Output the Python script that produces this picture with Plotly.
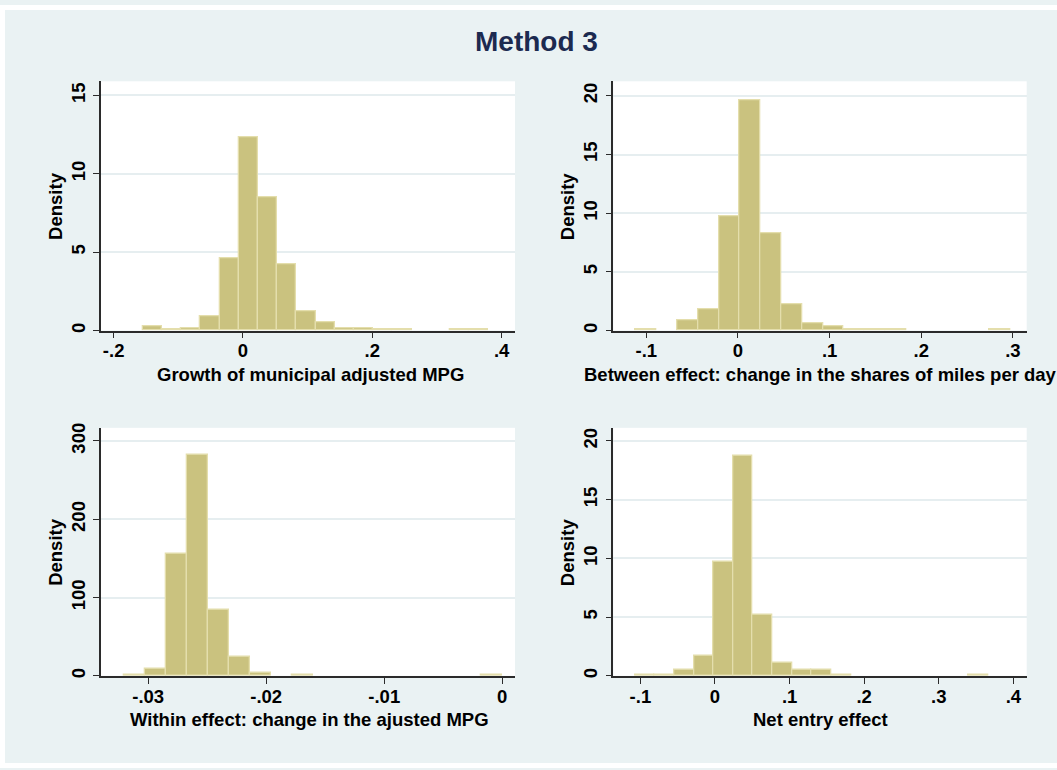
import plotly.graph_objects as go

W, H = 1057, 770

# ---------------- data ----------------
title_text = "Method 3"

p1_title = "Growth of municipal adjusted MPG"
p1_bin_start = -0.155
p1_bin_width = 0.0297
p1_density = [0.27, 0.08, 0.17, 0.93, 4.6, 12.32, 8.5, 4.2, 1.24, 0.51,
              0.17, 0.17, 0.08, 0.08, 0, 0, 0.08, 0.08]
p1_xticks = [-0.2, 0, 0.2, 0.4]
p1_xlabels = ["-.2", "0", ".2", ".4"]
p1_yticks = [0, 5, 10, 15]
p1_ylabels = ["0", "5", "10", "15"]

p2_title = "Between effect: change in the shares of miles per day"
p2_bin_start = -0.1116
p2_bin_width = 0.0227
p2_density = [0.14, 0, 0.9, 1.85, 9.72, 19.63, 8.31, 2.27, 0.62, 0.37,
              0.14, 0.14, 0.14, 0, 0, 0, 0, 0.14]
p2_xticks = [-0.1, 0, 0.1, 0.2, 0.3]
p2_xlabels = ["-.1", "0", ".1", ".2", ".3"]
p2_yticks = [0, 5, 10, 15, 20]
p2_ylabels = ["0", "5", "10", "15", "20"]

p3_title = "Within effect: change in the ajusted MPG"
p3_bin_start = -0.03203
p3_bin_width = 0.00178
p3_density = [1.7, 8.4, 155.3, 281.9, 84.8, 24.5, 3.8, 0, 1.7, 0,
              0, 0, 0, 0, 0, 0, 0, 1.7]
p3_xticks = [-0.03, -0.02, -0.01, 0]
p3_xlabels = ["-.03", "-.02", "-.01", "0"]
p3_yticks = [0, 100, 200, 300]
p3_ylabels = ["0", "100", "200", "300"]

p4_title = "Net entry effect"
p4_bin_start = -0.1072
p4_bin_width = 0.02631
p4_density = [0.11, 0.11, 0.48, 1.74, 9.72, 18.74, 5.22, 1.1, 0.48, 0.48,
              0.11, 0, 0, 0, 0, 0, 0, 0.11]
p4_xticks = [-0.1, 0, 0.1, 0.2, 0.3, 0.4]
p4_xlabels = ["-.1", "0", ".1", ".2", ".3", ".4"]
p4_yticks = [0, 5, 10, 15, 20]
p4_ylabels = ["0", "5", "10", "15", "20"]

y_title = "Density"

# ---------------- styling / layout ----------------
BG = "#EAF2F3"
BAR_FILL = "#CAC27F"
BAR_LINE = "#E4DEAC"
AXIS_COL = "#2B2B2B"
FONT = "Liberation Sans, Arial, sans-serif"
FS = 18.5

panels = [
    dict(start=p1_bin_start, width=p1_bin_width, dens=p1_density,
         xt=p1_xticks, xl=p1_xlabels, yt=p1_yticks, yl=p1_ylabels,
         xr=[-0.2196, 0.4207], yr=[0, 15.9], title=p1_title,
         px=(101, 515), py=(77, 328.5), tx=310),
    dict(start=p2_bin_start, width=p2_bin_width, dens=p2_density,
         xt=p2_xticks, xl=p2_xlabels, yt=p2_yticks, yl=p2_ylabels,
         xr=[-0.136, 0.315], yr=[0, 21.24], title=p2_title,
         px=(613.3, 1026.7), py=(77, 328.5), tx=820),
    dict(start=p3_bin_start, width=p3_bin_width, dens=p3_density,
         xt=p3_xticks, xl=p3_xlabels, yt=p3_yticks, yl=p3_ylabels,
         xr=[-0.0340, 0.00108], yr=[0, 316.8], title=p3_title,
         px=(101, 515), py=(426.7, 677), tx=309),
    dict(start=p4_bin_start, width=p4_bin_width, dens=p4_density,
         xt=p4_xticks, xl=p4_xlabels, yt=p4_yticks, yl=p4_ylabels,
         xr=[-0.1363, 0.4178], yr=[0, 21.12], title=p4_title,
         px=(613.3, 1026.7), py=(426.7, 677), tx=820),
]

fig = go.Figure()
layout = dict(
    width=W, height=H,
    margin=dict(l=0, r=0, t=0, b=0),
    paper_bgcolor=BG, plot_bgcolor="white",
    showlegend=False, bargap=0,
    font=dict(family=FONT, size=FS, color="black", weight="bold"),
)
annotations = []

for i, p in enumerate(panels, start=1):
    xs = [p["start"] + (k + 0.5) * p["width"] for k in range(len(p["dens"]))]
    keep = [(x, d) for x, d in zip(xs, p["dens"]) if d > 0]
    fig.add_trace(go.Bar(
        x=[k[0] for k in keep], y=[k[1] for k in keep],
        width=p["width"],
        marker=dict(color=BAR_FILL, line=dict(color=BAR_LINE, width=1.3)),
        xaxis=f"x{i}", yaxis=f"y{i}", hoverinfo="skip",
    ))
    sx = "" if i == 1 else str(i)
    x0, x1 = p["px"]
    y0, y1 = p["py"]
    layout[f"xaxis{sx}"] = dict(
        domain=[x0 / W, x1 / W], range=p["xr"], anchor=f"y{i}",
        tickmode="array", tickvals=p["xt"], ticktext=p["xl"],
        ticks="outside", ticklen=6, tickwidth=1.3, tickcolor=AXIS_COL,
        showline=True, linecolor=AXIS_COL, linewidth=1.5,
        showgrid=False, zeroline=False, ticklabelstandoff=-3,
        tickfont=dict(size=FS, color="black", family=FONT, weight="bold"),
    )
    layout[f"yaxis{sx}"] = dict(
        domain=[1 - y1 / H, 1 - y0 / H], range=p["yr"], anchor=f"x{i}",
        tickmode="array", tickvals=p["yt"], ticktext=p["yl"],
        tickangle=-90,
        ticks="outside", ticklen=6, tickwidth=1.3, tickcolor=AXIS_COL,
        showline=True, linecolor=AXIS_COL, linewidth=1.5,
        showgrid=True, gridcolor="#E6EEF0", gridwidth=1.5,
        zeroline=False, ticklabelstandoff=1,
        tickfont=dict(size=FS, color="black", family=FONT, weight="bold"),
    )
    # x-axis title
    annotations.append(dict(
        text=p["title"], x=p["tx"] / W, y=1 - (y1 + 44) / H,
        xref="paper", yref="paper", xanchor="center", yanchor="middle",
        showarrow=False,
        font=dict(size=FS, color="black", family=FONT, weight="bold"),
    ))
    # y-axis title
    annotations.append(dict(
        text=y_title, x=(x0 - 45) / W, y=1 - (y0 + y1) / 2 / H,
        xref="paper", yref="paper", xanchor="center", yanchor="middle",
        textangle=-90, showarrow=False,
        font=dict(size=FS, color="black", family=FONT, weight="bold"),
    ))

annotations.append(dict(
    text=title_text, x=536 / W, y=1 - 37 / H, xref="paper", yref="paper",
    xanchor="center", yanchor="middle", showarrow=False,
    font=dict(size=28, color="#1C2A50", family=FONT, weight="bold"),
))
layout["annotations"] = annotations

# white page border around the graph region
layout["shapes"] = [
    dict(type="rect", xref="paper", yref="paper", x0=0, x1=1, y0=1 - 5 / H, y1=1,
         fillcolor="white", line=dict(width=0), layer="below"),
    dict(type="rect", xref="paper", yref="paper", x0=0, x1=5 / W, y0=0, y1=1,
         fillcolor="white", line=dict(width=0), layer="below"),
    dict(type="rect", xref="paper", yref="paper", x0=0, x1=1, y0=0, y1=1 - 765 / H,
         fillcolor="white", line=dict(width=0), layer="below"),
]

fig.update_layout(**layout)
fig.write_html("out.html", config={"displayModeBar": False})

# remove the browser's default body margin so the figure sits at (0, 0)
with open("out.html", "r", encoding="utf-8") as f:
    html = f.read()
html = html.replace("<head>", "<head><style>html,body{margin:0;padding:0;overflow:hidden;}</style>", 1)
with open("out.html", "w", encoding="utf-8") as f:
    f.write(html)
